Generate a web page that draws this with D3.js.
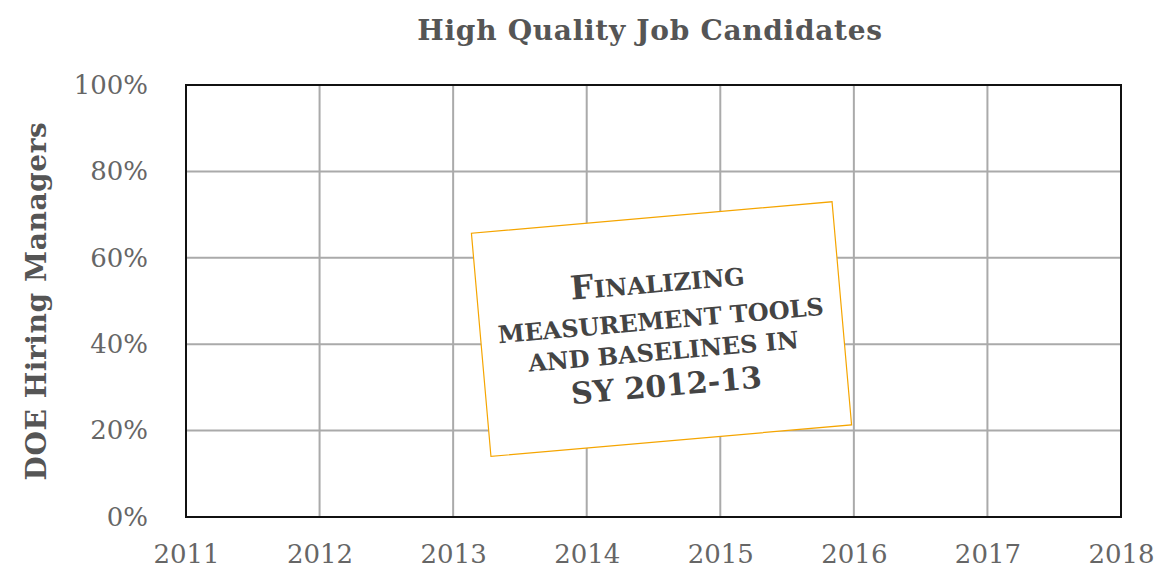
<!DOCTYPE html>
<html>
<head>
<meta charset="utf-8">
<script src="https://cdn.jsdelivr.net/npm/d3@7"></script>
<style>
  body { margin: 0; background: #fff; }
  svg text { font-family: "DejaVu Serif", "Liberation Serif", serif; }
  .tick text { fill: #666; font-size: 26px; }
  .grid line { stroke: #aaa; stroke-width: 2; }
</style>
</head>
<body>
<svg width="1157" height="568"></svg>
<script>
const title = "High Quality Job Candidates";
const yTitle = "DOE Hiring Managers";
const years = [2011, 2012, 2013, 2014, 2015, 2016, 2017, 2018];
const pctTicks = [0, 20, 40, 60, 80, 100];
const noteLines = [
    [["F", 33], ["INALIZING", 24]],
    [["MEASUREMENT TOOLS", 24]],
    [["AND BASELINES IN", 24]],
    [["SY 2012-13", 30]]
];

const svg = d3.select("svg");
const margin = { left: 186, right: 36, top: 85, bottom: 51 };
const width = +svg.attr("width"), height = +svg.attr("height");

const x = d3.scaleLinear()
    .domain([2011, 2018])
    .range([margin.left, width - margin.right]);

const y = d3.scaleLinear()
    .domain([0, 100])
    .range([height - margin.bottom, margin.top]);

// grid
svg.append("g")
    .attr("class", "grid")
    .selectAll("line.v")
    .data(years.slice(1, -1))
    .join("line")
    .attr("x1", d => x(d)).attr("x2", d => x(d))
    .attr("y1", y(0)).attr("y2", y(100));

svg.append("g")
    .attr("class", "grid")
    .selectAll("line.h")
    .data(pctTicks.slice(1, -1))
    .join("line")
    .attr("x1", x(2011)).attr("x2", x(2018))
    .attr("y1", d => y(d)).attr("y2", d => y(d));

// frame
svg.append("rect")
    .attr("x", x(2011)).attr("y", y(100))
    .attr("width", x(2018) - x(2011))
    .attr("height", y(0) - y(100))
    .attr("fill", "none")
    .attr("stroke", "#111")
    .attr("stroke-width", 2);

const xAxis = d3.axisBottom(x)
    .tickValues(years)
    .tickFormat(d3.format("d"))
    .tickSize(0)
    .tickPadding(28);

const yAxis = d3.axisLeft(y)
    .tickValues(pctTicks)
    .tickFormat(d => d + "%")
    .tickSize(0)
    .tickPadding(38);

svg.append("g")
    .attr("transform", `translate(0,${y(0)})`)
    .call(xAxis)
    .call(g => g.select(".domain").remove());

svg.append("g")
    .attr("transform", `translate(${x(2011)},0)`)
    .call(yAxis)
    .call(g => g.select(".domain").remove());

svg.selectAll(".tick text").attr("font-family", null);

// titles
svg.append("text")
    .attr("x", 650).attr("y", 40)
    .attr("text-anchor", "middle")
    .attr("fill", "#555")
    .attr("font-weight", "bold")
    .attr("font-size", 28)
    .attr("letter-spacing", 0.7)
    .text(title);

svg.append("text")
    .attr("transform", `translate(46,${(y(0) + y(100)) / 2}) rotate(-90)`)
    .attr("text-anchor", "middle")
    .attr("fill", "#555")
    .attr("font-weight", "bold")
    .attr("font-size", 28)
    .attr("letter-spacing", 0.6)
    .text(yTitle);

// callout box
const box = svg.append("g")
    .attr("transform", `translate(${x(2011) + 0.5 * (x(2018) - x(2011)) + 8},${y(43.5)}) rotate(-5)`);

box.append("rect")
    .attr("x", -181).attr("y", -112)
    .attr("width", 362).attr("height", 224)
    .attr("fill", "#fff")
    .attr("stroke", "#f5a500")
    .attr("stroke-width", 1.2);

const lineY = [-37, 0, 31, 67];
box.selectAll("text.note")
    .data(noteLines)
    .join("text")
    .attr("class", "note")
    .attr("x", 0)
    .attr("y", (d, i) => lineY[i])
    .attr("text-anchor", "middle")
    .attr("fill", "#444")
    .attr("font-weight", "bold")
    .selectAll("tspan")
    .data(d => d)
    .join("tspan")
    .attr("font-size", d => d[1])
    .text(d => d[0]);
</script>
</body>
</html>
